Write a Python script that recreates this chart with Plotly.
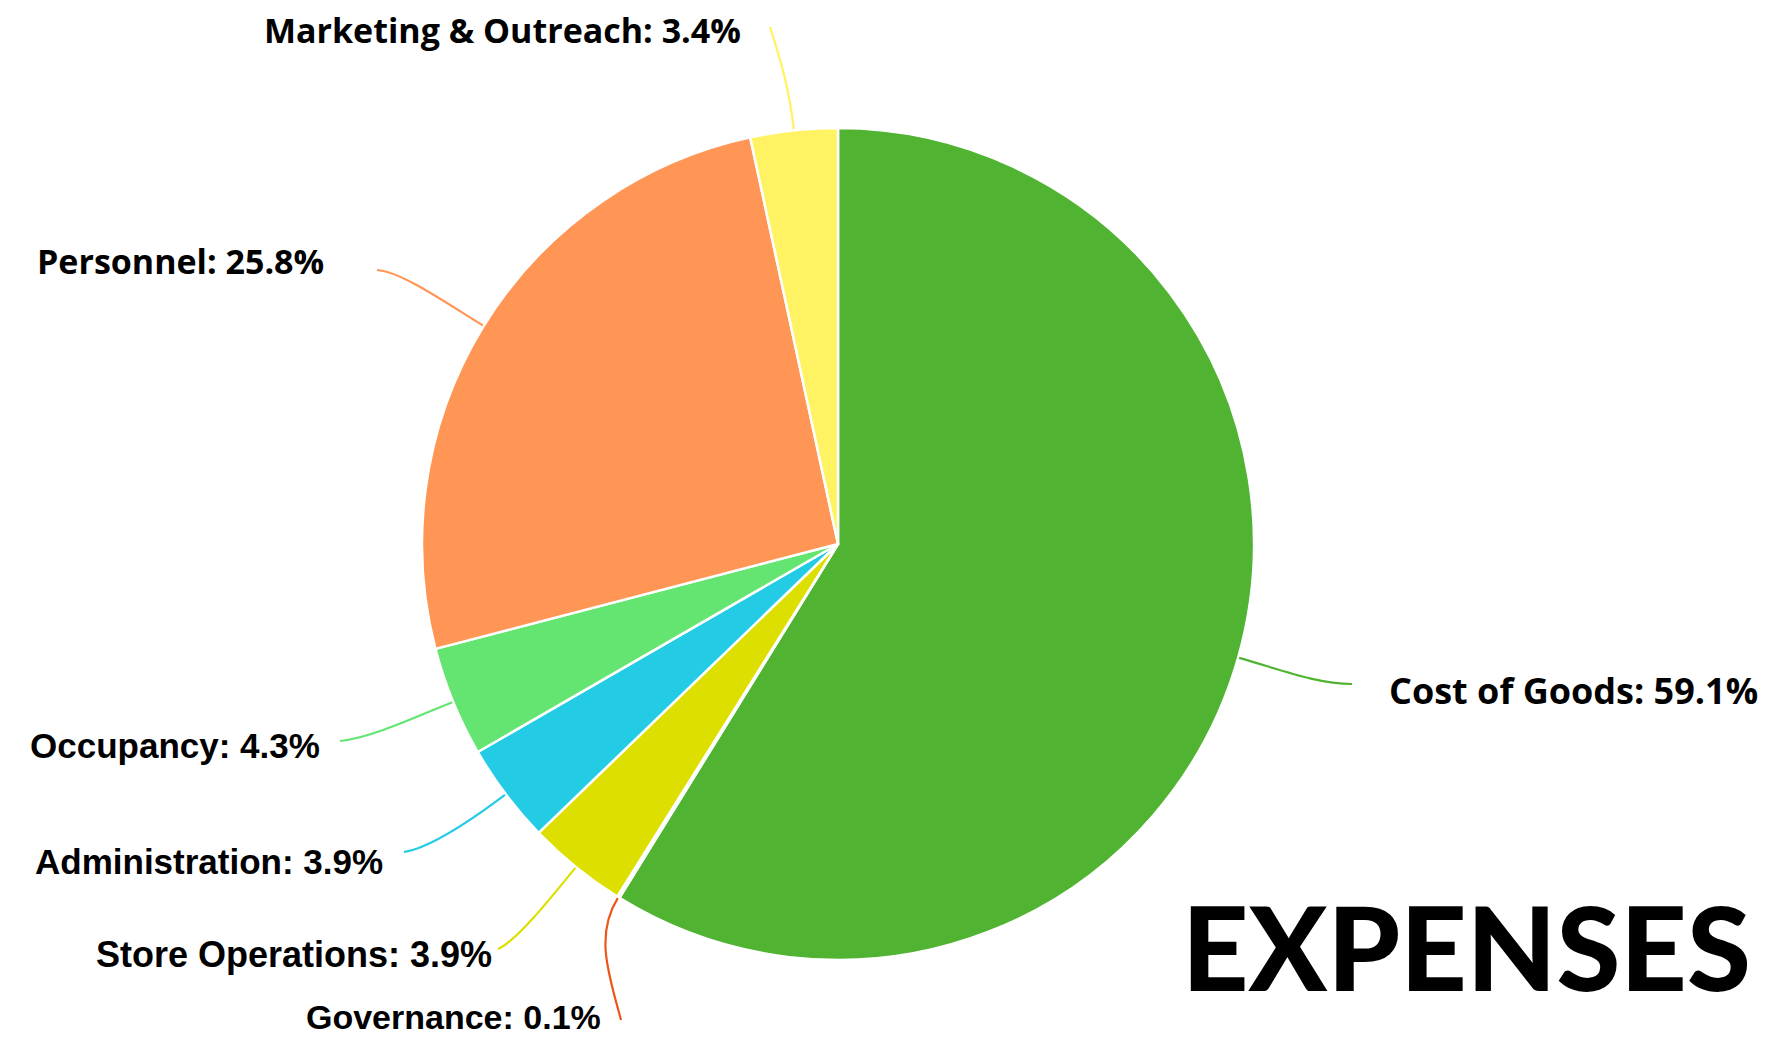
import math
import plotly.graph_objects as go

# ---- data ----
categories = ["Cost of Goods", "Governance", "Store Operations", "Administration",
              "Occupancy", "Personnel", "Marketing & Outreach"]
values = [59.1, 0.1, 3.9, 3.9, 4.3, 25.8, 3.4]
colors = ["#50B432", "#ED561B", "#DDDF00", "#24CBE5", "#64E572", "#FF9655", "#FFF263"]
title_text = "EXPENSES"

# ---- layout constants (screen pixels) ----
OFF = 8                       # default page body margin
W, H = 1776 - 2 * OFF, 1047 - 2 * OFF
CX, CY, R = 838, 544, 416

gill = "Open Sans"
arial = "Liberation Sans"
# (anchor x, center y, xanchor, leader end x, leader end y, approach dx, approach dy, family, size)
label_layout = {
    "Cost of Goods":        (1387, 690, "left", 1352, 684, -35, 0, gill, 36),
    "Governance":           (603, 1017, "right", 621, 1020, -12, -45, arial, 34),
    "Store Operations":     (494, 954, "right", 498, 949, 18, -8, arial, 36),
    "Administration":       (385, 861, "right", 404, 852, 25, -4, arial, 35),
    "Occupancy":            (322, 745, "right", 340, 741, 30, -3, arial, 35),
    "Personnel":            (326, 261, "right", 377, 270, 25, 2, gill, 34),
    "Marketing & Outreach": (743, 30, "right", 770, 27, 8, 25, gill, 34),
}

def px(x):
    return (x - OFF) / W

def py(y):
    return 1 - (y - OFF) / H

fig = go.Figure()
fig.add_trace(go.Pie(
    labels=categories, values=values, sort=False, direction="clockwise", rotation=0,
    marker=dict(colors=colors, line=dict(color="white", width=2.5)),
    textinfo="none", hoverinfo="label+percent",
    domain=dict(x=[px(CX - R), px(CX + R)], y=[py(CY + R), py(CY - R)]),
))

total = sum(values)
cum = 0.0
shapes = []
annotations = []
for cat, v, col in zip(categories, values, colors):
    f = (cum + v / 2) / total
    cum += v
    th = 2 * math.pi * f
    dx, dy = math.sin(th), -math.cos(th)
    ax, ay, xa, ex, ey, adx, ady, fam, fs = label_layout[cat]
    sx, sy = CX + (R + 1) * dx, CY + (R + 1) * dy
    p1x, p1y = CX + (R + 45) * dx, CY + (R + 45) * dy
    p2x, p2y = ex + adx, ey + ady
    path = (f"M {px(sx)},{py(sy)} C {px(p1x)},{py(p1y)} {px(p2x)},{py(p2y)} {px(ex)},{py(ey)}")
    shapes.append(dict(type="path", path=path, xref="paper", yref="paper",
                       line=dict(color=col, width=2.2)))
    annotations.append(dict(
        text=f"{cat}: {v:.1f}%", x=px(ax), y=py(ay), xref="paper", yref="paper",
        xanchor=xa, yanchor="middle", showarrow=False,
        font=dict(family=fam, size=fs, color="black", weight="bold"),
    ))

annotations.append(dict(
    text=title_text, x=px(1466), y=py(946), xref="paper", yref="paper",
    xanchor="center", yanchor="middle", showarrow=False,
    font=dict(family="Lato", size=116, color="black", weight=900),
))

fig.update_layout(
    width=W, height=H, margin=dict(l=0, r=0, t=0, b=0),
    paper_bgcolor="white", plot_bgcolor="white", showlegend=False,
    shapes=shapes, annotations=annotations,
)
fig.write_html("out.html")
